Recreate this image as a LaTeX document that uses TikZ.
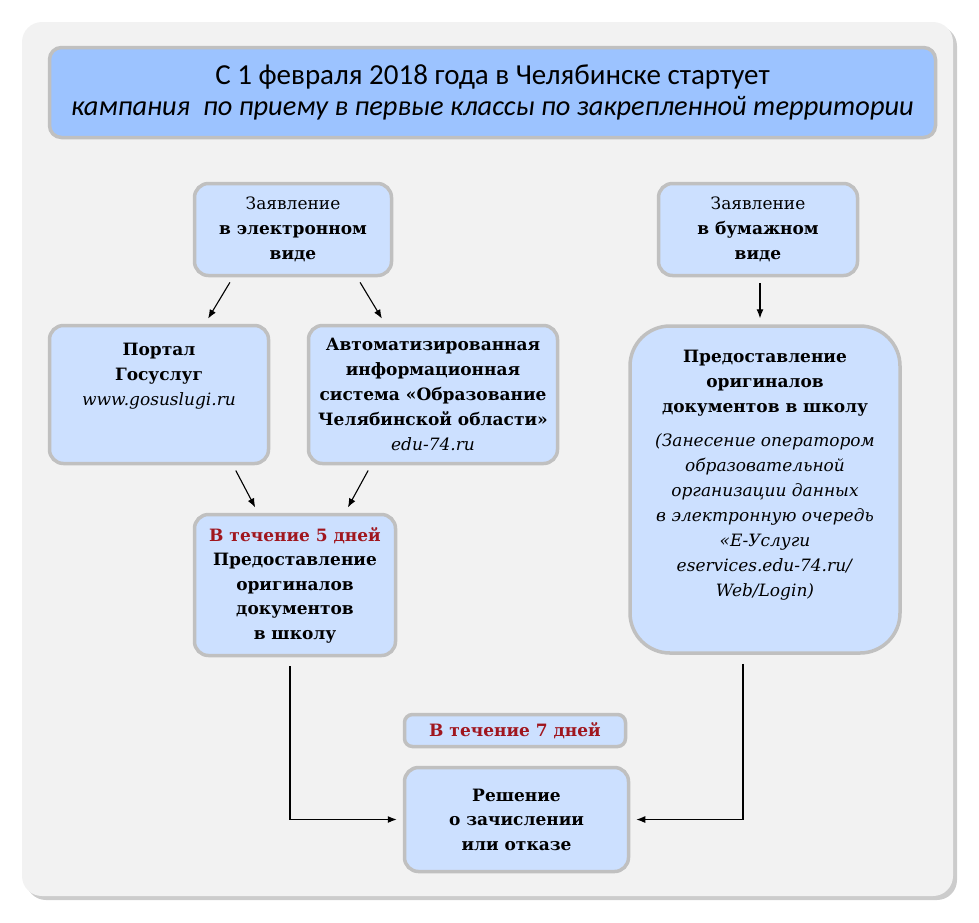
\documentclass[tikz,border=0pt]{standalone}
\usepackage{fontspec}
\setmainfont{DejaVu Serif}
\newfontfamily\titlefont{Carlito}
\usetikzlibrary{arrows.meta}
\definecolor{boxblue}{HTML}{CCE0FF}
\definecolor{headblue}{HTML}{9CC3FF}
\definecolor{boxline}{HTML}{C0C0C0}
\definecolor{cardgray}{HTML}{F2F2F2}
\definecolor{termred}{HTML}{A0161E}

\begin{document}
\begin{tikzpicture}[x=1pt, y=-1pt,
    box/.style={draw=boxline, line width=3.5pt, fill=boxblue, rounded corners=14pt,
        align=center, font=\fontsize{17}{25}\selectfont},
    arr/.style={-{Latex[length=9pt,width=7pt]}, line width=1.1pt,
        shorten <=6pt, shorten >=6pt}]
    \useasboundingbox (0,0) rectangle (979,922);
    % background card
    \fill[gray!40, rounded corners=20pt] (26,26) rectangle (957,900);
    \fill[cardgray, rounded corners=20pt] (22,22) rectangle (953,896);

    \node[box, fill=headblue, rounded corners=12pt, minimum width=886pt, minimum height=90pt,
        font=\titlefont\fontsize{29}{31}\selectfont] (title) at (492.5,92.5)
        {С 1 февраля 2018 года в Челябинске стартует\\
         \fontsize{28.4}{31}\selectfont\textit{кампания \ по приему в первые классы по закрепленной территории}};

    \node[box, minimum width=197pt, minimum height=92pt] (elec) at (293,229.5)
        {Заявление\\\textbf{в электронном}\\\textbf{виде}};
    \node[box, minimum width=199pt, minimum height=92pt] (paper) at (758,229.5)
        {Заявление\\\textbf{в бумажном}\\\textbf{виде}};

    \node[box, inner sep=0pt] (portal) at (159,394.5)
        {\parbox[c][138pt][t]{219pt}{\centering\vspace{18pt}%
         \textbf{Портал}\\\textbf{Госуслуг}\\\textit{www.gosuslugi.ru}}};
    \node[box, minimum width=249pt, minimum height=138pt] (ais) at (433,394.5)
        {\textbf{Автоматизированная}\\\textbf{информационная}\\\textbf{система «Образование}\\
         \textbf{Челябинской области»}\\\textit{edu-74.ru}};
    \node[box, rounded corners=40pt, inner sep=0pt] (orig) at (765,489.5)
        {\parbox[c][327pt][t]{270pt}{\centering\vspace{24pt}%
         \textbf{Предоставление}\\\textbf{оригиналов}\\\textbf{документов в школу}\\[9pt]
         \textit{(Занесение оператором}\\\textit{образовательной}\\\textit{организации данных}\\
         \textit{в электронную очередь}\\\textit{«Е-Услуги}\\\textit{eservices.edu-74.ru/}\\
         \textit{Web/Login)}}};

    \node[box, minimum width=201pt, minimum height=141pt, font=\fontsize{17}{24.5}\selectfont] (five) at (295,585)
        {\textbf{\textcolor{termred}{В течение 5 дней}}\\\textbf{Предоставление}\\\textbf{оригиналов}\\
         \textbf{документов}\\\textbf{в школу}};
    \node[box, rounded corners=8pt, minimum width=221pt, minimum height=32pt, inner sep=0pt] (seven) at (515,730.5)
        {\textbf{\textcolor{termred}{В течение 7 дней}}};
    \node[box, minimum width=224pt, minimum height=104pt, font=\fontsize{17}{24.5}\selectfont] (dec) at (516.5,819.5)
        {\textbf{Решение}\\\textbf{о зачислении}\\\textbf{или отказе}};

    \draw[arr] ([xshift=-60pt]elec.south) -- ([xshift=46pt]portal.north);
    \draw[arr] ([xshift=64pt]elec.south) -- ([xshift=-48pt]ais.north);
    \draw[arr] ([xshift=2pt]paper.south) -- ([xshift=-5pt]orig.north);
    \draw[arr] ([xshift=74pt]portal.south) -- ([xshift=-37pt]five.north);
    \draw[arr] ([xshift=-62pt]ais.south) -- ([xshift=50pt]five.north);
    \draw[arr, shorten <=9pt] ([xshift=-5pt]five.south) |- (dec.west);
    \draw[arr, shorten <=9pt] ([xshift=-22pt]orig.south) |- (dec.east);
\end{tikzpicture}
\end{document}
